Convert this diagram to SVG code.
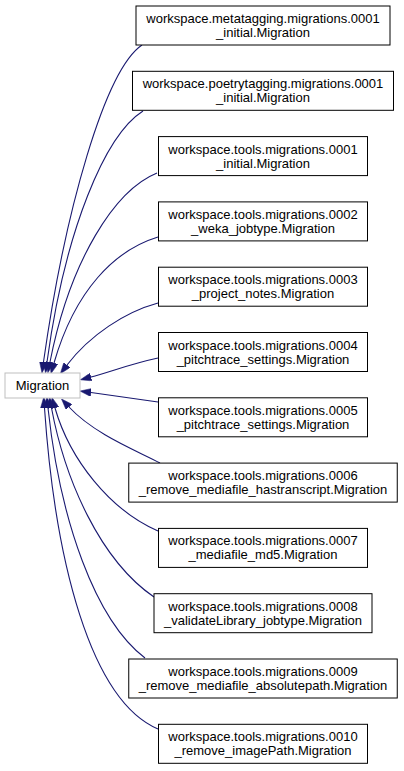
<svg xmlns="http://www.w3.org/2000/svg" width="404" height="771" viewBox="0 0 404 771">
<style>
  .node rect { fill: #ffffff; stroke: #000000; stroke-width: 1; }
  .base rect { fill: #ffffff; stroke: #bfbfbf; stroke-width: 1; }
  text { font-family: "Liberation Sans", Arial, Helvetica, sans-serif; font-size: 13px; fill: #000000; text-anchor: middle; }
  .edge { fill: none; stroke: #191970; stroke-width: 1.1; marker-end: url(#arrow); }
</style>
<defs>
  <marker id="arrow" markerUnits="userSpaceOnUse" markerWidth="11" markerHeight="8" viewBox="0 0 11 8" refX="0" refY="4" orient="auto">
    <path d="M0,0 L11,4 L0,8 Z" fill="#191970" stroke="#191970" stroke-width="0.5"/>
  </marker>
</defs>
<rect width="404" height="771" fill="#ffffff"/>
<g id="connectors">
  <path class="edge" d="M142,45 C105,70 65,210 43.5,362"/>
  <path class="edge" d="M143,111 C105,135 65,230 47,362"/>
  <path class="edge" d="M157,173 C115,190 70,260 50,362"/>
  <path class="edge" d="M158,237 C115,250 75,290 54,363"/>
  <path class="edge" d="M158,303 C125,312 90,335 67,365"/>
  <path class="edge" d="M158,358 C130,364 110,372 91,377"/>
  <path class="edge" d="M158,402 C130,398 110,395 91,392.5"/>
  <path class="edge" d="M160,463 C140,452 95,435 69,407"/>
  <path class="edge" d="M158,531 C110,510 70,460 55,408"/>
  <path class="edge" d="M154,597 C100,560 65,480 51.5,408"/>
  <path class="edge" d="M145,658 C95,620 60,520 48,408"/>
  <path class="edge" d="M158,729 C90,700 55,560 44.5,408"/>
</g>
<g id="node-migration" class="base">
  <rect x="5" y="373" width="75" height="25"/>
  <text x="42.5" y="390">Migration</text>
</g>
<g id="node-metatagging-0001" class="node">
  <rect x="136" y="6" width="254" height="39"/>
  <text x="263" y="23">workspace.metatagging.migrations.0001</text>
  <text x="263" y="37">_initial.Migration</text>
</g>
<g id="node-poetrytagging-0001" class="node">
  <rect x="132.5" y="71.3" width="261" height="39"/>
  <text x="263" y="88.3">workspace.poetrytagging.migrations.0001</text>
  <text x="263" y="102.3">_initial.Migration</text>
</g>
<g id="node-tools-0001" class="node">
  <rect x="158.5" y="136.6" width="209" height="39"/>
  <text x="263" y="153.6">workspace.tools.migrations.0001</text>
  <text x="263" y="167.6">_initial.Migration</text>
</g>
<g id="node-tools-0002" class="node">
  <rect x="158.5" y="201.9" width="209" height="39"/>
  <text x="263" y="218.9">workspace.tools.migrations.0002</text>
  <text x="263" y="232.9">_weka_jobtype.Migration</text>
</g>
<g id="node-tools-0003" class="node">
  <rect x="158.5" y="267.2" width="209" height="39"/>
  <text x="263" y="284.2">workspace.tools.migrations.0003</text>
  <text x="263" y="298.2">_project_notes.Migration</text>
</g>
<g id="node-tools-0004" class="node">
  <rect x="158.5" y="332.5" width="209" height="39"/>
  <text x="263" y="349.5">workspace.tools.migrations.0004</text>
  <text x="263" y="363.5">_pitchtrace_settings.Migration</text>
</g>
<g id="node-tools-0005" class="node">
  <rect x="158.5" y="397.8" width="209" height="39"/>
  <text x="263" y="414.8">workspace.tools.migrations.0005</text>
  <text x="263" y="428.8">_pitchtrace_settings.Migration</text>
</g>
<g id="node-tools-0006" class="node">
  <rect x="128.75" y="463.1" width="268.5" height="39"/>
  <text x="263" y="480.1">workspace.tools.migrations.0006</text>
  <text x="263" y="494.1">_remove_mediafile_hastranscript.Migration</text>
</g>
<g id="node-tools-0007" class="node">
  <rect x="158.5" y="528.4" width="209" height="39"/>
  <text x="263" y="545.4">workspace.tools.migrations.0007</text>
  <text x="263" y="559.4">_mediafile_md5.Migration</text>
</g>
<g id="node-tools-0008" class="node">
  <rect x="154" y="593.7" width="218" height="39"/>
  <text x="263" y="610.7">workspace.tools.migrations.0008</text>
  <text x="263" y="624.7">_validateLibrary_jobtype.Migration</text>
</g>
<g id="node-tools-0009" class="node">
  <rect x="128.75" y="659" width="268.5" height="39"/>
  <text x="263" y="676">workspace.tools.migrations.0009</text>
  <text x="263" y="690">_remove_mediafile_absolutepath.Migration</text>
</g>
<g id="node-tools-0010" class="node">
  <rect x="158.5" y="724.3" width="209" height="39"/>
  <text x="263" y="741.3">workspace.tools.migrations.0010</text>
  <text x="263" y="755.3">_remove_imagePath.Migration</text>
</g>
</svg>
